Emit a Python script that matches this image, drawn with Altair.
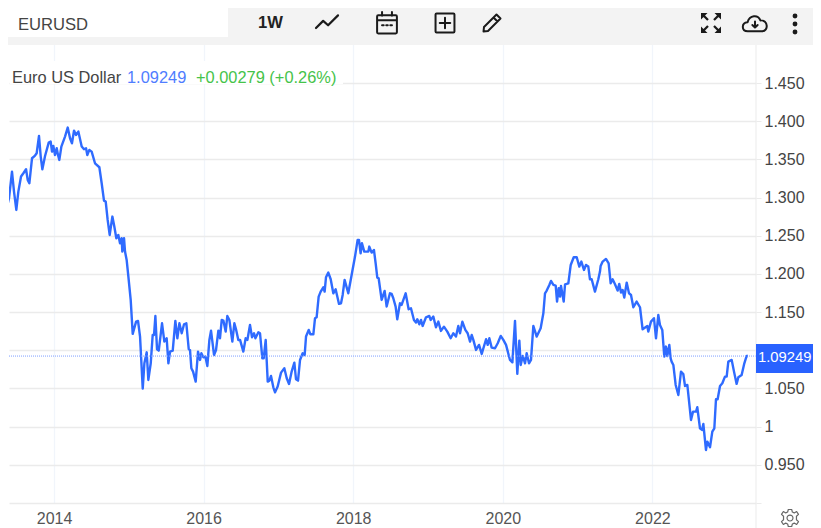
import altair as alt
import pandas as pd

# Weekly close: decimal year and EURUSD level, by stretch
yr_a = [2013.278,2013.291,2013.323,2013.340,2013.363,2013.398,2013.438,2013.465,2013.496,2013.523,2013.559,2013.590,2013.626,2013.648,2013.670,2013.706,2013.746,2013.768,2013.799,2013.822,2013.844,2013.880,2013.929,2013.955,2013.973,2013.991,2014.013,2014.036,2014.053,2014.071,2014.098,2014.147,2014.183,2014.214,2014.240,2014.267,2014.294,2014.325,2014.370,2014.401,2014.428,2014.445,2014.472,2014.503,2014.548,2014.606,2014.637,2014.668,2014.691,2014.717,2014.744,2014.780,2014.806,2014.833,2014.860,2014.882,2014.904,2014.913,2014.936,2014.949,2014.971]
val_a = [1.3100,1.3035,1.3110,1.2970,1.2848,1.2992,1.3341,1.3079,1.2839,1.3079,1.3276,1.3319,1.3372,1.3232,1.3188,1.3516,1.3551,1.3581,1.3808,1.3538,1.3372,1.3546,1.3721,1.3734,1.3603,1.3677,1.3559,1.3647,1.3559,1.3494,1.3669,1.3800,1.3918,1.3778,1.3712,1.3878,1.3821,1.3865,1.3669,1.3634,1.3647,1.3559,1.3625,1.3603,1.3450,1.3398,1.3188,1.2961,1.2948,1.2708,1.2511,1.2752,1.2621,1.2468,1.2511,1.2402,1.2468,1.2293,1.2468,1.2293,1.2184]
yr_b = [2014.994,2015.025,2015.052,2015.097,2015.123,2015.150,2015.186,2015.208,2015.239,2015.261,2015.293,2015.319,2015.337,2015.355,2015.377,2015.400,2015.444,2015.475,2015.506,2015.529,2015.551,2015.587,2015.622,2015.649,2015.676,2015.707,2015.738,2015.769,2015.801,2015.818,2015.836,2015.859,2015.894,2015.925,2015.952,2015.970,2015.997,2016.023,2016.050,2016.077,2016.099,2016.139,2016.166,2016.197,2016.219,2016.242,2016.264,2016.295,2016.317,2016.344,2016.384,2016.411,2016.433]
val_b = [1.1966,1.1660,1.1215,1.1376,1.1385,1.1180,1.0498,1.0830,1.0974,1.0612,1.0830,1.1201,1.1201,1.1450,1.1014,1.0996,1.1354,1.1114,1.1158,1.0830,1.0983,1.0996,1.1385,1.1158,1.1354,1.1223,1.1341,1.1354,1.1014,1.1005,1.0765,1.0721,1.0590,1.0983,1.0874,1.0961,1.0909,1.0918,1.0795,1.1136,1.1258,1.0939,1.1005,1.1258,1.1158,1.1398,1.1389,1.1245,1.1450,1.1398,1.1114,1.1354,1.1276]
yr_c = [2016.464,2016.487,2016.531,2016.562,2016.585,2016.620,2016.647,2016.674,2016.692,2016.732,2016.754,2016.785,2016.803,2016.830,2016.857,2016.879,2016.901,2016.932,2016.955,2016.990,2017.035,2017.079,2017.111,2017.142,2017.177,2017.213,2017.235,2017.262,2017.289,2017.324,2017.351,2017.369,2017.405,2017.427,2017.467,2017.489,2017.511,2017.538,2017.565,2017.600,2017.618,2017.636,2017.667,2017.699,2017.734,2017.765,2017.810,2017.837]
val_c = [1.1136,1.1136,1.0983,1.1158,1.1136,1.1332,1.1171,1.1223,1.1158,1.1236,1.1223,1.0895,1.0895,1.1136,1.0590,1.0603,1.0664,1.0516,1.0450,1.0525,1.0708,1.0765,1.0634,1.0559,1.0721,1.0839,1.0621,1.0603,1.0874,1.0961,1.0939,1.1180,1.1267,1.1210,1.1210,1.1420,1.1433,1.1703,1.1769,1.1826,1.1769,1.1957,1.2018,1.1931,1.1747,1.1800,1.1608,1.1616]
yr_d = [2017.859,2017.885,2017.934,2017.983,2018.024,2018.059,2018.077,2018.099,2018.117,2018.148,2018.202,2018.215,2018.246,2018.277,2018.300,2018.322,2018.340,2018.380,2018.420,2018.447,2018.491,2018.514,2018.536,2018.567,2018.589,2018.625,2018.647,2018.701,2018.741,2018.772,2018.812,2018.839,2018.857,2018.884,2018.906,2018.928,2018.973,2019.017,2019.035,2019.071,2019.106,2019.138,2019.173,2019.213,2019.258,2019.303,2019.338,2019.374,2019.405]
val_d = [1.1725,1.1922,1.1747,1.2009,1.2228,1.2446,1.2446,1.2271,1.2402,1.2293,1.2293,1.2359,1.2280,1.2315,1.2140,1.1953,1.1944,1.1660,1.1778,1.1573,1.1747,1.1738,1.1682,1.1573,1.1407,1.1616,1.1594,1.1747,1.1538,1.1551,1.1398,1.1363,1.1407,1.1341,1.1398,1.1319,1.1433,1.1450,1.1398,1.1442,1.1302,1.1376,1.1254,1.1310,1.1245,1.1158,1.1223,1.1180,1.1319]
yr_e = [2019.428,2019.459,2019.499,2019.530,2019.562,2019.584,2019.606,2019.642,2019.682,2019.718,2019.776,2019.798,2019.820,2019.851,2019.896,2019.932,2019.972,2020.007,2020.043,2020.096,2020.128,2020.163,2020.194,2020.221,2020.239,2020.266,2020.297,2020.319,2020.350,2020.377,2020.408,2020.453,2020.506,2020.542,2020.564,2020.587,2020.622,2020.644,2020.676,2020.707,2020.725,2020.747,2020.765,2020.778,2020.814,2020.832,2020.876,2020.908,2020.948,2020.988]
val_e = [1.1223,1.1376,1.1267,1.1223,1.1114,1.1201,1.1136,1.1005,1.1071,1.0953,1.1145,1.1071,1.1158,1.1035,1.1027,1.1092,1.1188,1.1136,1.1071,1.0874,1.0843,1.1385,1.0691,1.1127,1.0808,1.0926,1.0830,1.0961,1.0830,1.0874,1.1319,1.1180,1.1289,1.1485,1.1747,1.1782,1.1856,1.1909,1.1856,1.1847,1.1638,1.1813,1.1703,1.1843,1.1638,1.1865,1.1878,1.2118,1.2219,1.2219]
yr_f = [2021.023,2021.050,2021.085,2021.112,2021.143,2021.165,2021.188,2021.232,2021.277,2021.299,2021.308,2021.335,2021.379,2021.415,2021.442,2021.468,2021.500,2021.535,2021.557,2021.580,2021.602,2021.624,2021.656,2021.687,2021.714,2021.745,2021.789,2021.834,2021.869,2021.932,2021.945,2021.981,2022.021,2022.048,2022.079,2022.101,2022.132,2022.159,2022.181,2022.199,2022.226,2022.244]
val_f = [1.2097,1.2162,1.2053,1.2118,1.2097,1.1931,1.1931,1.1769,1.1931,1.2031,1.2105,1.2162,1.2197,1.2140,1.1878,1.1931,1.1865,1.1782,1.1870,1.1756,1.1791,1.1691,1.1887,1.1747,1.1725,1.1564,1.1638,1.1564,1.1276,1.1319,1.1245,1.1376,1.1420,1.1157,1.1463,1.1332,1.1267,1.0917,1.1049,1.0926,1.1071,1.0895]
yr_g = [2022.257,2022.280,2022.311,2022.347,2022.382,2022.413,2022.436,2022.467,2022.516,2022.543,2022.583,2022.600,2022.636,2022.663,2022.681,2022.716,2022.734,2022.770,2022.801,2022.828,2022.850,2022.872,2022.904,2022.935,2022.970,2022.993,2023.015,2023.060,2023.091,2023.126,2023.149,2023.193,2023.229,2023.260,2023.278]
val_g = [1.0852,1.0808,1.0546,1.0415,1.0721,1.0690,1.0533,1.0546,1.0088,1.0197,1.0197,1.0254,0.9979,0.9957,1.0035,0.9695,0.9804,0.9730,0.9935,0.9979,1.0359,1.0359,1.0533,1.0568,1.0656,1.0656,1.0852,1.0874,1.0721,1.0560,1.0647,1.0677,1.0830,1.0926,1.09249]

years = yr_a + yr_b + yr_c + yr_d + yr_e + yr_f + yr_g
values = val_a + val_b + val_c + val_d + val_e + val_f + val_g

x_ticks = [2014, 2016, 2018, 2020, 2022]
y_ticks = [0.9, 0.95, 1.0, 1.05, 1.1, 1.15, 1.2, 1.25, 1.3, 1.35, 1.4, 1.45]
last_price = 1.09249

BLUE = "#2f6bff"
W, H = 747, 495
FULL_W, FULL_H = 805, 520
OX = -1
FONT = "Liberation Sans"

xscale = alt.Scale(domain=[2013.398, 2023.385], nice=False, zero=False)
yscale = alt.Scale(domain=[0.9, 1.5484], nice=False, zero=False)
yaxis = alt.Axis(
    orient="right", values=y_ticks, grid=True, gridColor="#ebebeb", gridWidth=1.3,
    domain=False, tickColor="#ebebeb", tickSize=5, labelFont=FONT, labelFontSize=16,
    labelColor="#444444", labelPadding=3, labelOverlap=False, labelAlign="left",
    labelExpr="datum.value == 0.9 ? '' : datum.value == 1 ? '1' : format(datum.value, '.3f')")

one = alt.Data(values=[{"a": 1}])


def box(x, x2, y, y2, color):
    return alt.Chart(one).mark_rect(color=color).encode(
        x=alt.value(x + OX), x2=alt.value(x2 + OX), y=alt.value(y), y2=alt.value(y2))


def label(text, x, y, color="#444444", size=16.4, weight="normal", align="left"):
    return alt.Chart(one).mark_text(
        text=text, font=FONT, fontSize=size, fontWeight=weight, color=color,
        align=align, baseline="middle").encode(x=alt.value(x + OX), y=alt.value(y))


def icon(path, x, y, px, filled=False, color="#1a1a1a", sw=2.0):
    kw = dict(fill=color, strokeWidth=0) if filled else dict(fill=None, stroke=color, strokeWidth=sw)
    return alt.Chart(one).mark_point(
        shape=path, size=px * px, opacity=1, filled=filled, strokeJoin="round", strokeCap="round", **kw
    ).encode(x=alt.value(x + OX), y=alt.value(y))


def dot(y):
    return alt.Chart(one).mark_circle(color="#1a1a1a", opacity=1, size=24).encode(
        x=alt.value(787 + OX), y=alt.value(y))


df = pd.DataFrame({"year": years, "price": values})

line = alt.Chart(df).mark_line(color=BLUE, strokeWidth=2.4, clip=True, strokeJoin="round").encode(
    x=alt.X("year:Q", scale=xscale, title=None, axis=alt.Axis(
        values=x_ticks, format="d", grid=True, gridColor="#f1f5fb", gridWidth=1.3,
        ticks=False, domain=False, labelFont=FONT, labelFontSize=16, labelColor="#555555",
        labelPadding=7, labelOverlap=False, labelBaseline="top")),
    y=alt.Y("price:Q", scale=yscale, title=None, axis=yaxis),
)

price_rule = alt.Chart(pd.DataFrame({"p": [last_price]})).mark_rule(
    color="#7f9fff", strokeWidth=1, strokeDash=[1, 1]
).encode(y=alt.Y("p:Q", scale=yscale, title=None, axis=yaxis))

right_edge = alt.Chart(one).mark_rule(color="#ebebeb", strokeWidth=1).encode(
    x=alt.value(W), y=alt.value(37), y2=alt.value(FULL_H))

layers = [
    line,
    price_rule,
    right_edge,
    box(2, 335, 53, 76, "white"),
    label("Euro US Dollar", 4, 70),
    label("1.09249", 119, 70, color="#4f7dff"),
    label("+0.00279 (+0.26%)", 188, 70, color="#45c34a"),
    box(0, FULL_W, 0, 37, "#f3f3f3"),
    box(0, 220, 0, 29, "white"),
    label("EURUSD", 10, 17, size=16.6),
    label("1W", 250, 15, color="#222222", size=16.6, weight="bold"),
    box(748, FULL_W, 336, 365, "#2962ff"),
    label("1.09249", 750, 350, color="white", size=14.8),
    # toolbar glyphs
    icon("M-1,0.55 L-0.35,-0.1 L0.1,0.3 L1,-0.6", 319, 14, 22, sw=2.2),
    icon("M-0.8,-0.7 H0.8 Q0.9,-0.7 0.9,-0.6 V0.85 Q0.9,0.95 0.8,0.95 H-0.8 Q-0.9,0.95 -0.9,0.85 V-0.6 Q-0.9,-0.7 -0.8,-0.7 Z M-0.9,-0.25 H0.9 M-0.45,-1 V-0.65 M0.45,-1 V-0.65 M-0.45,0.2 H-0.3 M-0.07,0.2 H0.07 M0.3,0.2 H0.45",
         379, 15, 22),
    icon("M-0.8,-0.9 H0.8 Q0.9,-0.9 0.9,-0.8 V0.8 Q0.9,0.9 0.8,0.9 H-0.8 Q-0.9,0.9 -0.9,0.8 V-0.8 Q-0.9,-0.9 -0.8,-0.9 Z M0,-0.5 V0.5 M-0.5,0 H0.5", 437, 15, 21),
    icon("M-0.85,0.85 L-0.8,0.4 L0.45,-0.85 L0.85,-0.45 L-0.4,0.8 Z M0.15,-0.55 L0.55,-0.15", 484, 15, 20),
    icon("M-1,-1 H-0.35 L-1,-0.35 Z M1,-1 H0.35 L1,-0.35 Z M-1,1 H-0.35 L-1,0.35 Z M1,1 H0.35 L1,0.35 Z "
         "M-0.78,-0.62 L-0.62,-0.78 L-0.22,-0.38 L-0.38,-0.22 Z M0.78,-0.62 L0.62,-0.78 L0.22,-0.38 L0.38,-0.22 Z "
         "M-0.78,0.62 L-0.62,0.78 L-0.22,0.38 L-0.38,0.22 Z M0.78,0.62 L0.62,0.78 L0.22,0.38 L0.38,0.22 Z",
         703, 15, 20, filled=True),
    icon("M-0.6,0.6 C-1.15,0.6 -1.15,-0.1 -0.62,-0.15 C-0.45,-0.75 0.25,-0.8 0.45,-0.3 C1.1,-0.35 1.15,0.6 0.6,0.6 Z", 747, 16, 24, sw=2),
    icon("M0,-0.2 V0.3 M-0.22,0.08 L0,0.3 L0.22,0.08", 747, 16, 24, sw=2),
    dot(8), dot(16), dot(24),
    # settings gear
    icon("M-0.2,-1 H0.2 L0.28,-0.7 L0.5,-0.6 L0.78,-0.76 L1,-0.42 L0.76,-0.2 V0.2 L1,0.42 L0.78,0.76 L0.5,0.6 L0.28,0.7 L0.2,1 H-0.2 L-0.28,0.7 L-0.5,0.6 L-0.78,0.76 L-1,0.42 L-0.76,0.2 V-0.2 L-1,-0.42 L-0.78,-0.76 L-0.5,-0.6 L-0.28,-0.7 Z "
         "M0.35,0 A0.35,0.35 0 1,1 -0.35,0 A0.35,0.35 0 1,1 0.35,0 Z", 782, 510, 17, color="#666666", sw=1.2),
]

chart = alt.layer(*layers).properties(width=W, height=H, padding=0).configure_view(stroke=None)

chart.save("out.html", embed_options={"renderer": "svg", "actions": False})
